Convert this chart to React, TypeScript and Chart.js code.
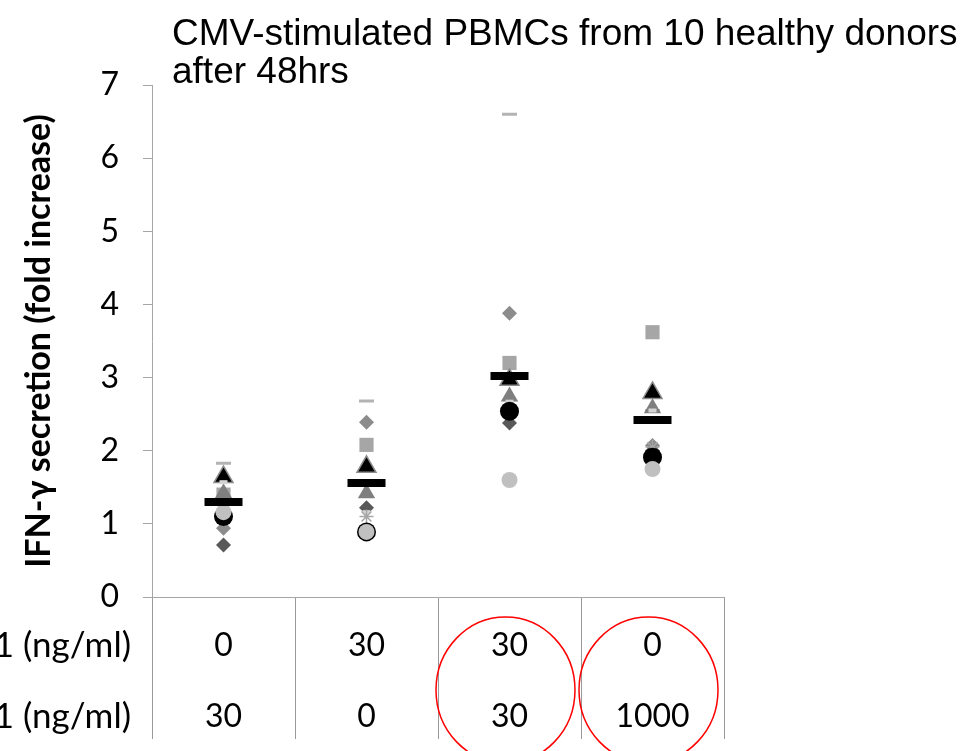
import React, { useEffect, useRef } from 'react';
import { Chart, registerables } from 'chart.js';

Chart.register(...registerables);

// ---------- data ----------
const categories = ['0 / 30', '30 / 0', '30 / 30', '0 / 1000'];
const titleLines = ['CMV-stimulated PBMCs from 10 healthy donors', 'after 48hrs'];
const yAxisTitle = 'IFN-γ secretion (fold increase)';
const yMin = 0;
const yMax = 7;
const yStep = 1;
const rowLabels = ['1 (ng/ml)', '1 (ng/ml)'];
const row1Values = ['0', '30', '30', '0'];
const row2Values = ['30', '0', '30', '1000'];
const circledCategories = [2, 3];

const meanValues = [1.3, 1.56, 3.02, 2.42];
const donorDash = [1.83, 2.68, 6.6, 2.55];
const donorDiamondMid = [0.94, 2.39, 3.88, 2.07];
const donorSquare = [1.4, 2.08, 3.2, 3.62];
const donorTriangleBlack = [1.64, 1.78, 2.97, 2.79];
const donorTriangleGray = [1.42, 1.42, 2.74, 2.58];
const donorDiamondDark = [0.71, 1.22, 2.38, 2.0];
const donorShortDash = [1.57, 1.16, 2.67, 2.55];
const donorStar = [1.15, 1.1, 1.6, 2.05];
const donorCircleLight = [1.16, 0.89, 1.6, 1.75];
const donorCircleBlack = [1.1, 0.89, 2.54, 1.91];

const TICK_FONT = 'Lato, "Open Sans", sans-serif';

const tablePlugin = {
  id: 'tableAndTitle',
  afterDraw(chart: any) {
    const ctx = chart.ctx;
    const xs = chart.scales.x;
    const area = chart.chartArea;
    const catW = (area.right - area.left) / categories.length;
    ctx.save();
    // table text
    ctx.fillStyle = '#000';
    ctx.textBaseline = 'middle';
    const rowY = [area.bottom + 49, area.bottom + 120];
    ctx.textAlign = 'right';
    ctx.font = `35px ${TICK_FONT}`;
    rowLabels.forEach((t, i) => ctx.fillText(t, 131, rowY[i]));
    ctx.textAlign = 'center';
    ctx.font = `32px ${TICK_FONT}`;
    categories.forEach((_, i) => {
      const x = xs.getPixelForValue(i);
      ctx.fillText(row1Values[i], x, rowY[0]);
      ctx.fillText(row2Values[i], x, rowY[1]);
    });
    // red circles
    ctx.strokeStyle = '#ff0000';
    ctx.lineWidth = 1.5;
    circledCategories.forEach((i) => {
      const x = xs.getPixelForValue(i) - 4;
      ctx.beginPath();
      ctx.ellipse(x, area.bottom + 93, catW / 2 - 2, 73, 0, 0, Math.PI * 2);
      ctx.stroke();
    });
    // title
    ctx.textAlign = 'left';
    ctx.textBaseline = 'alphabetic';
    ctx.font = '37px "Liberation Sans", Arial, sans-serif';
    ctx.fillText(titleLines[0], 172, 45);
    ctx.fillText(titleLines[1], 172, 83);
    ctx.restore();
  },
};

export default function App() {
  const ref = useRef<HTMLCanvasElement | null>(null);
  useEffect(() => {
    if (!ref.current) return;
    const mk = (
      label: string,
      data: number[],
      pointStyle: string,
      radius: number,
      bg: string,
      border: string,
      bw: number
    ) => ({
      label,
      data,
      showLine: false,
      pointStyle,
      pointRadius: radius,
      pointHoverRadius: radius,
      backgroundColor: bg,
      borderColor: border,
      borderWidth: bw,
      pointBorderWidth: bw,
    });
    const chart = new Chart(ref.current, {
      type: 'line',
      data: {
        labels: categories,
        datasets: [
          mk('Mean', meanValues, 'line', 19, '#000', '#000', 8),
          mk('Donor 1', donorCircleLight, 'circle', 8, '#c0c0c0', '#c0c0c0', 0),
          mk('Donor 2', donorCircleBlack, 'circle', 9.5, '#000', '#000', 0),
          mk('Donor 3', donorStar, 'star', 7, '#a6a6a6', '#a6a6a6', 1.5),
          mk('Donor 4', donorShortDash, 'line', 4, '#d4d4d4', '#d4d4d4', 4),
          mk('Donor 5', donorDiamondDark, 'rectRot', 7.5, '#595959', '#595959', 0),
          mk('Donor 6', donorTriangleGray, 'triangle', 10, '#7f7f7f', '#7f7f7f', 0),
          mk('Donor 7', donorTriangleBlack, 'triangle', 11, '#000', '#8c8c8c', 1.5),
          mk('Donor 8', donorSquare, 'rect', 10, '#a6a6a6', '#a6a6a6', 0),
          mk('Donor 9', donorDiamondMid, 'rectRot', 7.5, '#8c8c8c', '#8c8c8c', 0),
          mk('Donor 10', donorDash, 'line', 7.5, '#b3b3b3', '#b3b3b3', 3),
        ] as any,
      },
      options: {
        responsive: false,
        animation: false,
        devicePixelRatio: 1,
        layout: { padding: { top: 85, right: 245, left: 0, bottom: 0 } },
        plugins: {
          legend: { display: false },
          tooltip: { enabled: false },
          title: { display: false },
        },
        scales: {
          x: {
            type: 'category',
            offset: true,
            afterFit: (s: any) => {
              s.height = 154;
            },
            ticks: { display: false },
            grid: {
              display: true,
              offset: true,
              drawOnChartArea: false,
              drawTicks: true,
              tickLength: 142,
              color: '#999999',
              lineWidth: 1,
            },
            border: { display: true, color: '#a6a6a6', width: 1 },
          },
          y: {
            min: yMin,
            max: yMax,
            afterFit: (s: any) => {
              s.width = 152;
            },
            ticks: {
              stepSize: yStep,
              color: '#000',
              padding: 24,
              font: { family: TICK_FONT, size: 32 },
            },
            grid: {
              display: true,
              drawOnChartArea: false,
              drawTicks: true,
              tickLength: 9,
              color: '#a6a6a6',
            },
            border: { display: true, color: '#a6a6a6', width: 1 },
            title: {
              display: true,
              text: yAxisTitle,
              color: '#000',
              font: { family: TICK_FONT, size: 34, weight: 'bold' },
              padding: { top: 19, bottom: 0 },
            },
          },
        },
      } as any,
      plugins: [tablePlugin],
    });
    return () => chart.destroy();
  }, []);
  return (
    <div style={{ position: 'fixed', left: 0, top: 0, width: 969, height: 751, background: '#fff' }}>
      <canvas ref={ref} width={969} height={751} style={{ width: 969, height: 751 }} />
    </div>
  );
}
